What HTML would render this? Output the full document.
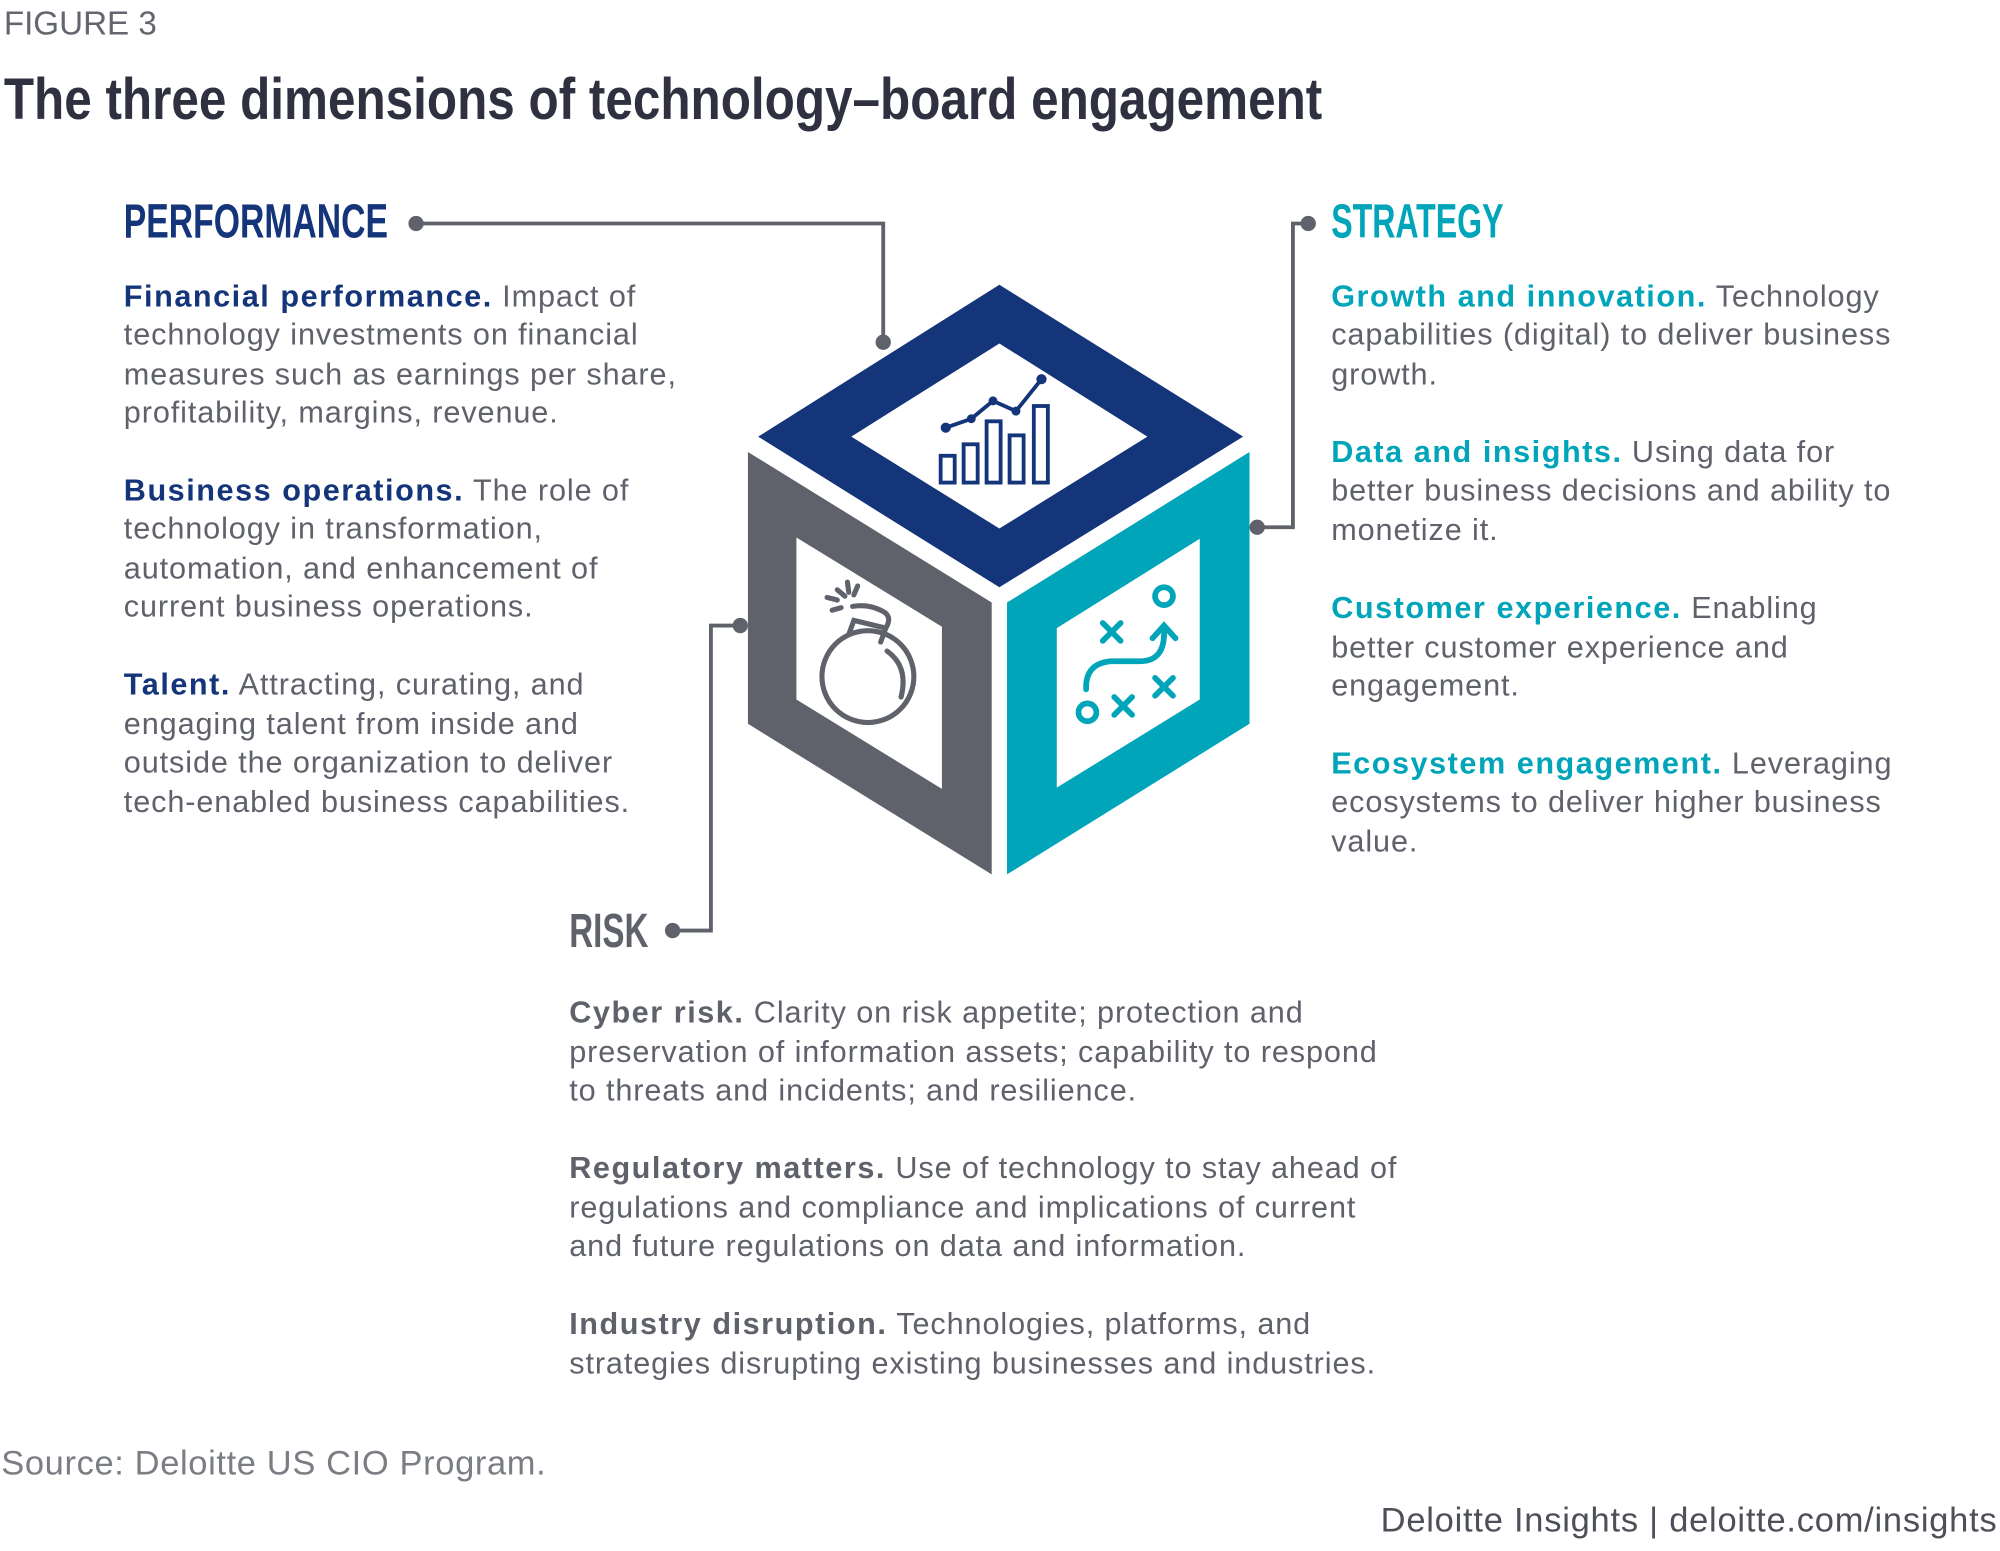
<!DOCTYPE html>
<html><head><meta charset="utf-8"><style>
html,body{margin:0;padding:0;background:#fff;}
svg{display:block;}
.b{font-family:"Liberation Sans",sans-serif;font-size:24px;letter-spacing:0.7px;fill:#5f626b;}
.h{font-family:"Liberation Sans Narrow","Liberation Sans",sans-serif;font-weight:bold;}
.bd{font-weight:bold;letter-spacing:1.2px;}
</style></head><body>
<svg width="2000" height="1551" viewBox="0 0 1567 1215" xmlns="http://www.w3.org/2000/svg">
<rect width="1567" height="1215" fill="#fff"/>
<text x="3" y="27" font-family="Liberation Sans Narrow, Liberation Sans, sans-serif" font-size="26" fill="#63666e">FIGURE 3</text>
<text x="3" y="93" class="h" font-size="46" fill="#2f3140" textLength="1033" lengthAdjust="spacingAndGlyphs">The three dimensions of technology–board engagement</text>

<text x="97" y="186" class="h" font-size="38" fill="#14357a" textLength="207" lengthAdjust="spacingAndGlyphs">PERFORMANCE</text>
<text x="1043" y="186" class="h" font-size="38" fill="#00a5b9" textLength="135" lengthAdjust="spacingAndGlyphs">STRATEGY</text>
<text x="446" y="742" class="h" font-size="38" fill="#5f626b" textLength="62" lengthAdjust="spacingAndGlyphs">RISK</text>

<g stroke="#5f626b" stroke-width="3" fill="none">
<polyline points="326,175 692,175 692,268"/>
<polyline points="1025,175 1013,175 1013,413 985,413"/>
<polyline points="527,729 557,729 557,490 580,490"/>
</g>
<g fill="#5f626b">
<circle cx="326" cy="175" r="6"/><circle cx="692" cy="268" r="6"/>
<circle cx="1025" cy="175" r="6"/><circle cx="985" cy="413" r="6"/>
<circle cx="527" cy="729" r="6"/><circle cx="580" cy="490" r="6"/>
</g>

<path fill="#14357a" fill-rule="evenodd" d="M783,223 L974,342 L783,460 L594,342 Z M783,269 L667,342 L783,414 L899,342 Z"/>
<path fill="#5f626b" fill-rule="evenodd" d="M586,354 L777,472 L777,685 L586,567 Z M624,421 L738,491 L738,618 L624,548 Z"/>
<path fill="#00a5b9" fill-rule="evenodd" d="M789,472 L979,354 L979,567 L789,685 Z M828,492 L940,422 L940,548 L828,617 Z"/>

<g fill="none" stroke="#14357a" stroke-width="3">
<rect x="737" y="357" width="11" height="21"/>
<rect x="755" y="348" width="11" height="30"/>
<rect x="773" y="330" width="11" height="48"/>
<rect x="791" y="341" width="11" height="37"/>
<rect x="810" y="318" width="11" height="60"/>
<polyline points="741,335 761,328 778,314 796,322 816,297"/>
</g>
<g fill="#14357a"><circle cx="741" cy="335" r="4"/><circle cx="761" cy="328" r="3.5"/><circle cx="778" cy="314" r="3.5"/><circle cx="796" cy="322" r="3.5"/><circle cx="816" cy="297" r="4"/></g>

<g fill="none" stroke="#5f626b" stroke-width="4" stroke-linecap="round">
<circle cx="680" cy="530" r="36"/>
<path d="M665,497 L669,486 L694,492 L690,503"/>
<path d="M694,492 Q700,482 690,478 Q680,473 668,475"/>
<path d="M695,510 Q712,522 706,546"/>
<path d="M656,462 L662,467 M648,468 L656,470 M652,478 L659,476 M664,456 L665,464 M672,459 L669,466"/>
</g>

<g fill="none" stroke="#00a5b9" stroke-width="4.5" stroke-linecap="round">
<circle cx="912" cy="467" r="7"/>
<circle cx="852" cy="558" r="7"/>
<path d="M864,488 L878,502 M878,488 L864,502"/>
<path d="M873,546 L887,560 M887,546 L873,560"/>
<path d="M905,531 L919,545 M919,531 L905,545"/>
<path d="M851,540 Q850,520 870,518 L893,518 Q913,518 912,494"/>
<path d="M903,500 L912,490 L921,500"/>
</g>

<g class="b">
<text x="97" y="240"><tspan class="bd" fill="#14357a">Financial performance.</tspan> Impact of</text>
<text x="97" y="270">technology investments on financial</text>
<text x="97" y="301">measures such as earnings per share,</text>
<text x="97" y="331">profitability, margins, revenue.</text>
<text x="97" y="392"><tspan class="bd" fill="#14357a">Business operations.</tspan> The role of</text>
<text x="97" y="422">technology in transformation,</text>
<text x="97" y="453">automation, and enhancement of</text>
<text x="97" y="483">current business operations.</text>
<text x="97" y="544"><tspan class="bd" fill="#14357a">Talent.</tspan> Attracting, curating, and</text>
<text x="97" y="575">engaging talent from inside and</text>
<text x="97" y="605">outside the organization to deliver</text>
<text x="97" y="636">tech-enabled business capabilities.</text>
</g>

<g class="b">
<text x="1043" y="240"><tspan class="bd" fill="#00a5b9">Growth and innovation.</tspan> Technology</text>
<text x="1043" y="270">capabilities (digital) to deliver business</text>
<text x="1043" y="301">growth.</text>
<text x="1043" y="362"><tspan class="bd" fill="#00a5b9">Data and insights.</tspan> Using data for</text>
<text x="1043" y="392">better business decisions and ability to</text>
<text x="1043" y="423">monetize it.</text>
<text x="1043" y="484"><tspan class="bd" fill="#00a5b9">Customer experience.</tspan> Enabling</text>
<text x="1043" y="515">better customer experience and</text>
<text x="1043" y="545">engagement.</text>
<text x="1043" y="606"><tspan class="bd" fill="#00a5b9">Ecosystem engagement.</tspan> Leveraging</text>
<text x="1043" y="636">ecosystems to deliver higher business</text>
<text x="1043" y="667">value.</text>
</g>

<g class="b">
<text x="446" y="801"><tspan class="bd" fill="#5f626b">Cyber risk.</tspan> Clarity on risk appetite; protection and</text>
<text x="446" y="832">preservation of information assets; capability to respond</text>
<text x="446" y="862">to threats and incidents; and resilience.</text>
<text x="446" y="923"><tspan class="bd" fill="#5f626b">Regulatory matters.</tspan> Use of technology to stay ahead of</text>
<text x="446" y="954">regulations and compliance and implications of current</text>
<text x="446" y="984">and future regulations on data and information.</text>
<text x="446" y="1045"><tspan class="bd" fill="#5f626b">Industry disruption.</tspan> Technologies, platforms, and</text>
<text x="446" y="1076">strategies disrupting existing businesses and industries.</text>
</g>

<text x="1" y="1155" font-family="Liberation Sans, sans-serif" font-size="27" letter-spacing="0.5" fill="#7a7d84">Source: Deloitte US CIO Program.</text>
<text x="1565" y="1200" text-anchor="end" font-family="Liberation Sans, sans-serif" font-size="27" letter-spacing="0.6" fill="#4d5058">Deloitte Insights | deloitte.com/insights</text>
</svg>
</body></html>
